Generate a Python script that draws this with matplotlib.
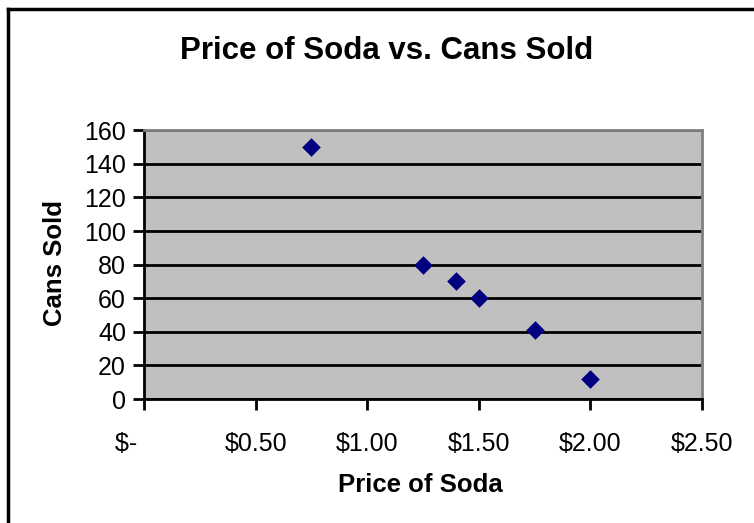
import matplotlib.pyplot as plt
from matplotlib.lines import Line2D

plt.rcParams['font.family'] = ['Liberation Sans', 'DejaVu Sans']

# price of a can vs. number of cans sold
price = [0.75, 1.25, 1.40, 1.50, 1.75, 2.00]
cans_sold = [150, 80, 70, 60, 41, 12]

x_ticks = [0, 0.5, 1.0, 1.5, 2.0, 2.5]
x_labels = ['$-     ', '$0.50', '$1.00', '$1.50', '$2.00', '$2.50']
y_ticks = [0, 20, 40, 60, 80, 100, 120, 140, 160]

fig = plt.figure(figsize=(7.54, 5.23), dpi=100)
ax = fig.add_axes([0.191, 0.237, 0.740, 0.514])
ax.set_facecolor('#C0C0C0')

ax.scatter(price, cans_sold, marker='D', s=90, color='#000080', zorder=3, linewidths=0)

ax.set_xlim(0, 2.5)
ax.set_ylim(0, 160)
ax.set_xticks(x_ticks)
ax.set_xticklabels(x_labels)
ax.set_yticks(y_ticks)
ax.tick_params(axis='both', labelsize=18, length=8, width=2, direction='out', color='black')
ax.tick_params(axis='x', pad=16)
ax.tick_params(axis='y', pad=5)

ax.yaxis.grid(True, color='black', linewidth=2)
ax.set_axisbelow(True)

for side in ['left', 'bottom']:
    ax.spines[side].set_color('black')
    ax.spines[side].set_linewidth(2)
for side in ['top', 'right']:
    ax.spines[side].set_color('#808080')
    ax.spines[side].set_linewidth(2)

fig.text(0.513, 0.902, 'Price of Soda vs. Cans Sold', ha='center', va='center',
         fontsize=22.5, fontweight='bold')
fig.text(0.557, 0.073, 'Price of Soda', ha='center', va='center',
         fontsize=18.5, fontweight='bold')
fig.text(0.073, 0.497, 'Cans Sold', ha='center', va='center', rotation=90,
         fontsize=18.5, fontweight='bold')

# chart frame, top and left edges
fig.add_artist(Line2D([0.0106, 1.0], [0.983, 0.983], color='black', linewidth=2.5,
                      transform=fig.transFigure))
fig.add_artist(Line2D([0.0106, 0.0106], [0.0, 0.983], color='black', linewidth=2.5,
                      transform=fig.transFigure))

fig.savefig('out.png', dpi=100, facecolor='white')
